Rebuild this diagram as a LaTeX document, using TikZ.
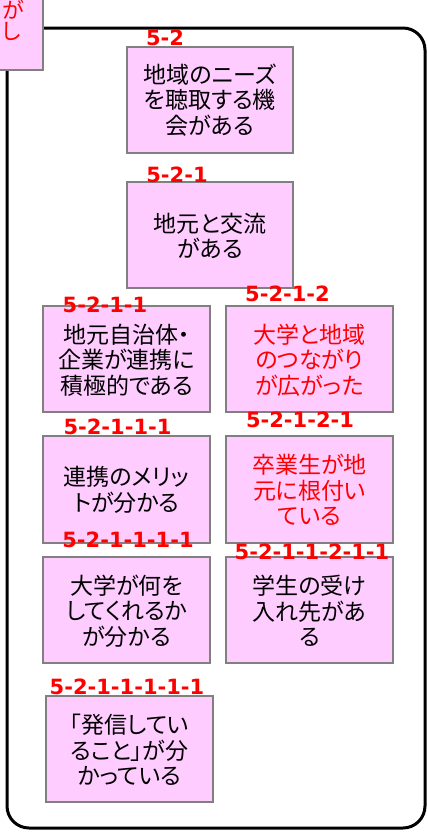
\documentclass[tikz,border=0pt]{standalone}
\usepackage{fontspec}
\newfontfamily\jpfont{Noto Sans CJK JP}[RawFeature=+palt]
\newfontfamily\labfont{DejaVu Sans}
\definecolor{boxfill}{HTML}{FFCCFF}
\definecolor{boxline}{HTML}{808080}
\definecolor{lab}{HTML}{FF0000}
\tikzset{
  card/.style={draw=boxline, fill=boxfill, line width=1.5pt},
  cardtext/.style={align=center, inner sep=0pt, font=\jpfont\fontsize{23}{25.5}\selectfont},
  idlabel/.style={text=lab, inner sep=0pt, text depth=0pt, font=\labfont\bfseries\fontsize{21}{21}\selectfont},
  frame/.style={draw=black, line width=3pt, rounded corners=22pt}
}
\begin{document}
\begin{tikzpicture}[x=1pt,y=-1pt]
\useasboundingbox (0,0) rectangle (428,835);
\begin{scope}
\clip (0,0) rectangle (428,835);
% outer frame
\draw[frame] (7,28) rectangle (425,828);
% partial box at top left
\draw[card] (-130,-10) rectangle (43,70);
\node[align=left, inner sep=0pt, text=lab, font=\jpfont\fontsize{22}{21}\selectfont, anchor=west] (tl) at (2,20) {が\\し};
% boxes
\draw[card] (127,47) rectangle (293,153);
\node[cardtext] (a) at (210,100) {地域のニーズ\\を聴取する機\\会がある};
\draw[card] (127,182) rectangle (293,288);
\node[cardtext] (b) at (210,236) {地元と交流\\がある};
\draw[card] (43,306) rectangle (210,412);
\node[cardtext] (c) at (126.5,360) {地元自治体・\\企業が連携に\\積極的である};
\draw[card] (226,306) rectangle (393,412);
\node[cardtext, text=lab] (d) at (309.5,360) {大学と地域\\のつながり\\が広がった};
\draw[card] (43,436) rectangle (210,543);
\node[cardtext] (e) at (126.5,490) {連携のメリッ\\トが分かる};
\draw[card] (226,436) rectangle (393,543);
\node[cardtext, text=lab] (f) at (309.5,490) {卒業生が地\\元に根付い\\ている};
\draw[card] (43,557) rectangle (210,663);
\node[cardtext] (g) at (126.5,611) {大学が何を\\してくれるか\\が分かる};
\draw[card] (226,557) rectangle (393,663);
\node[cardtext] (h) at (309.5,611) {学生の受け\\入れ先があ\\る};
\draw[card] (46,696) rectangle (213,802);
\node[cardtext] (i) at (129.5,750) {「発信してい\\ること」が分\\かっている};
% labels
\node[idlabel] (la) at (165,37.5) {5-2};
\node[idlabel] (lb) at (177,174.5) {5-2-1};
\node[idlabel] (lc) at (105,304.5) {5-2-1-1};
\node[idlabel] (ld) at (287.5,294) {5-2-1-2};
\node[idlabel] (le) at (117.5,426.5) {5-2-1-1-1};
\node[idlabel] (lf) at (300,420) {5-2-1-2-1};
\node[idlabel] (lg) at (128,540) {5-2-1-1-1-1};
\node[idlabel] (lh) at (312,552) {5-2-1-1-2-1-1};
\node[idlabel] (li) at (127,686.5) {5-2-1-1-1-1-1};
\end{scope}
\end{tikzpicture}
\end{document}
